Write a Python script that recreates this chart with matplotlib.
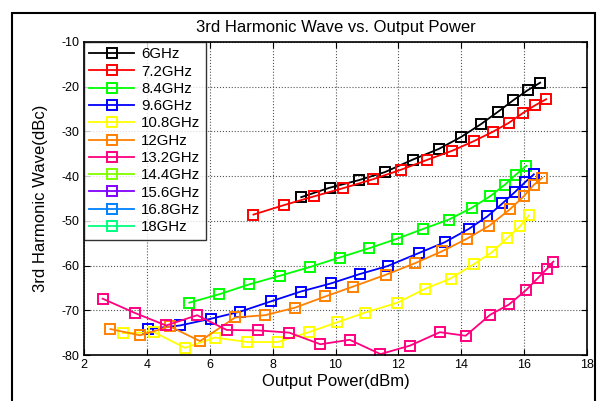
import matplotlib
matplotlib.use("Agg")
import matplotlib.pyplot as plt
from matplotlib.patches import Rectangle

plt.rcParams['font.family'] = ['Liberation Sans', 'DejaVu Sans']
plt.rcParams['axes.unicode_minus'] = False

labels = ["6GHz", "7.2GHz", "8.4GHz", "9.6GHz", "10.8GHz", "12GHz",
          "13.2GHz", "14.4GHz", "15.6GHz", "16.8GHz", "18GHz"]
colors = ["#000000", "#ff0000", "#00ff00", "#0000ff", "#ffff00", "#ff8000",
          "#ff0080", "#80ff00", "#8000ff", "#0080ff", "#00ff80"]

x_6 = [8.91, 9.81, 10.74, 11.57, 12.46, 13.29, 13.98, 14.62, 15.17, 15.66, 16.11, 16.51]
y_6 = [-44.7, -42.6, -40.9, -39.1, -36.3, -33.9, -31.3, -28.4, -25.6, -23.0, -20.8, -19.1]

x_72 = [7.39, 8.35, 9.33, 10.24, 11.19, 12.07, 12.90, 13.72, 14.39, 15.00, 15.51, 15.98, 16.34, 16.70]
y_72 = [-48.6, -46.5, -44.5, -42.7, -40.7, -38.6, -36.4, -34.3, -32.2, -30.1, -28.1, -25.8, -24.2, -22.8]

x_84 = [5.35, 6.31, 7.26, 8.22, 9.20, 10.13, 11.08, 11.96, 12.79, 13.61, 14.33, 14.92, 15.39, 15.73, 16.07]
y_84 = [-68.3, -66.4, -64.2, -62.3, -60.3, -58.2, -56.1, -54.0, -51.8, -49.7, -47.1, -44.5, -41.9, -39.7, -37.7]

x_96 = [4.04, 5.05, 6.03, 6.97, 7.95, 8.90, 9.85, 10.77, 11.66, 12.65, 13.47, 14.24, 14.83, 15.31, 15.70, 16.04, 16.31]
y_96 = [-74.2, -73.4, -71.9, -70.3, -68.0, -65.8, -64.0, -61.9, -60.1, -57.2, -54.8, -51.8, -49.0, -46.1, -43.6, -41.3, -39.6]

x_108 = [3.24, 4.23, 5.21, 6.17, 7.20, 8.17, 9.15, 10.05, 10.95, 11.97, 12.85, 13.66, 14.40, 14.98, 15.47, 15.87, 16.15]
y_108 = [-75.1, -74.9, -78.4, -76.1, -77.1, -77.1, -74.9, -72.7, -70.5, -68.3, -65.2, -62.9, -59.7, -57.0, -53.8, -51.2, -48.8]

x_12 = [2.84, 3.78, 4.73, 5.69, 6.81, 7.76, 8.72, 9.68, 10.56, 11.62, 12.52, 13.39, 14.18, 14.89, 15.55, 15.99, 16.30, 16.57]
y_12 = [-74.2, -75.6, -73.6, -76.9, -71.6, -71.1, -69.4, -66.9, -64.7, -62.0, -59.5, -56.8, -54.0, -51.1, -47.4, -44.5, -42.0, -40.4]

x_132 = [2.59, 3.62, 4.61, 5.60, 6.54, 7.55, 8.53, 9.52, 10.45, 11.43, 12.37, 13.32, 14.14, 14.92, 15.52, 16.06, 16.45, 16.73, 16.93]
y_132 = [-67.4, -70.6, -73.4, -71.1, -74.4, -74.5, -75.0, -77.6, -76.6, -79.8, -77.9, -74.9, -75.7, -71.0, -68.7, -65.5, -62.7, -60.7, -59.1]

x_144, y_144 = [], []
x_156, y_156 = [], []
x_168, y_168 = [], []
x_18, y_18 = [], []

xs = [x_6, x_72, x_84, x_96, x_108, x_12, x_132, x_144, x_156, x_168, x_18]
ys = [y_6, y_72, y_84, y_96, y_108, y_12, y_132, y_144, y_156, y_168, y_18]

x_ticks = [2, 4, 6, 8, 10, 12, 14, 16, 18]
y_ticks = [-80, -70, -60, -50, -40, -30, -20, -10]

fig = plt.figure(figsize=(6.08, 4.01), dpi=100)
ax = fig.add_axes([84/608, 1-355/401, (587-84)/608, (355-42)/401])

for x, y, c, lab in zip(xs, ys, colors, labels):
    ax.plot(x, y, color=c, lw=1.3, marker='s', markersize=6.5,
            markerfacecolor='none', markeredgecolor=c, markeredgewidth=1.4,
            label=lab)

ax.set_xlim(2, 18)
ax.set_ylim(-80, -10)
ax.set_xticks(x_ticks)
ax.set_yticks(y_ticks)
ax.tick_params(direction='in', labelsize=9, top=True, right=True, length=4, pad=3)
ax.grid(True, color='#555555', linestyle=':', linewidth=0.8)
for s in ax.spines.values():
    s.set_linewidth(1.2)

ax.set_title("3rd Harmonic Wave vs. Output Power", fontsize=12, pad=7)
ax.set_xlabel("Output Power(dBm)", fontsize=12, labelpad=2)
ax.set_ylabel("3rd Harmonic Wave(dBc)", fontsize=12, labelpad=10)

leg = ax.legend(loc='upper left', borderaxespad=0, fontsize=10.8, frameon=True,
                fancybox=False, edgecolor='black', handlelength=3.0,
                labelspacing=0.22, borderpad=0.35, handletextpad=0.45)
leg.get_frame().set_linewidth(1.0)

fig.patches.append(Rectangle((12/608, -0.02), (595-12)/608, 1-13/401+0.02,
                             transform=fig.transFigure, fill=False,
                             edgecolor='black', linewidth=1.5))

fig.savefig("out.png", dpi=100)
